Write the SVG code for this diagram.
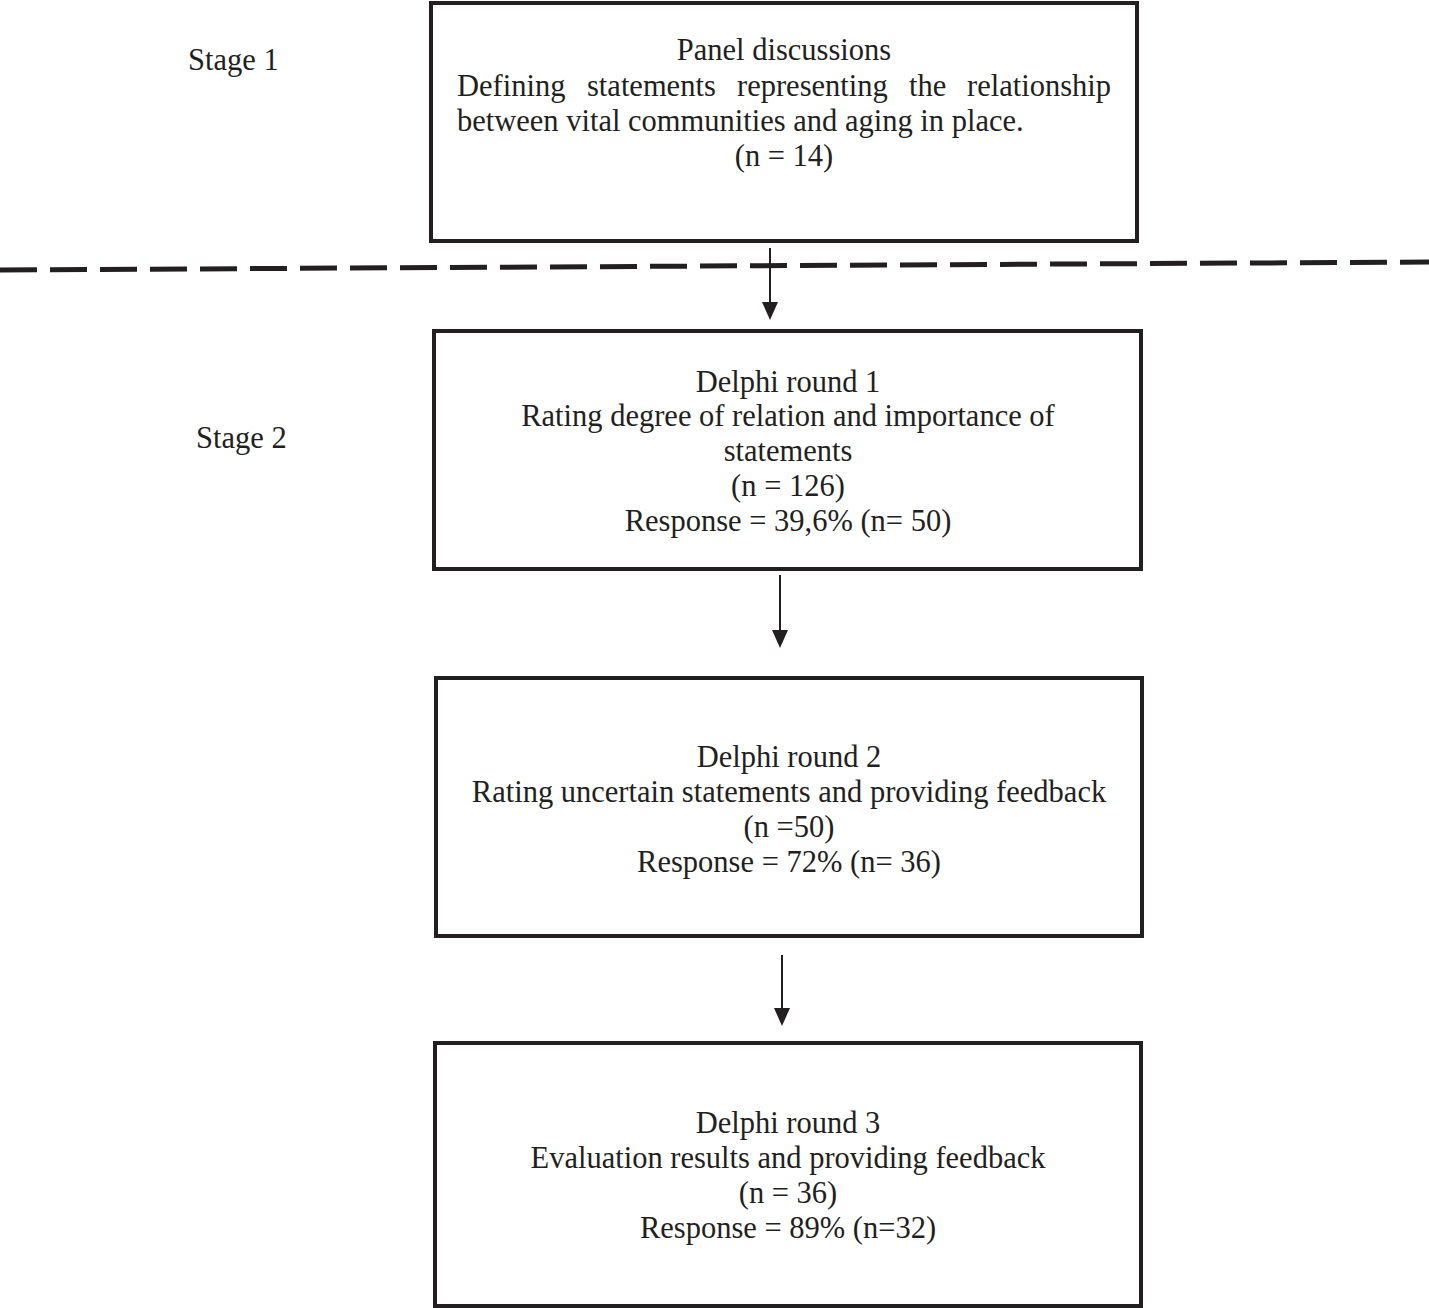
<svg xmlns="http://www.w3.org/2000/svg" width="1429" height="1308" viewBox="0 0 1429 1308">
<style>
text{font-family:"Liberation Serif","Times New Roman",serif;font-size:30.5px;fill:#231f20}
.c{text-anchor:middle}
.e{text-anchor:end}
.box{fill:#fff;stroke:#231f20;stroke-width:4}
.ln{stroke:#231f20;stroke-width:2;fill:none}
.ah{fill:#231f20}
</style>
<rect width="1429" height="1308" fill="#fff"/>
<text x="188" y="70">Stage 1</text>
<text x="196" y="448">Stage 2</text>
<g id="divider"><path d="M0,270 L1429,262" stroke="#231f20" stroke-width="5" stroke-dasharray="37,13" fill="none"/></g>
<g id="n1">
<rect class="box" x="431" y="3" width="706" height="238"/>
<text class="c" x="784" y="60">Panel discussions</text>
<text x="457" y="96">Defining</text>
<text x="587" y="96">statements</text>
<text x="737" y="96">representing</text>
<text x="909" y="96">the</text>
<text class="e" x="1111" y="96">relationship</text>
<text x="457" y="131">between vital communities and aging in place.</text>
<text class="c" x="784" y="166">(n = 14)</text>
</g>
<g id="n2">
<rect class="box" x="434" y="331" width="707" height="238"/>
<text class="c" x="788" y="392">Delphi round 1</text>
<text class="c" x="788" y="426">Rating degree of relation and importance of</text>
<text class="c" x="788" y="461">statements</text>
<text class="c" x="788" y="496">(n = 126)</text>
<text class="c" x="788" y="531">Response = 39,6% (n= 50)</text>
</g>
<g id="n3">
<rect class="box" x="436" y="678" width="706" height="258"/>
<text class="c" x="789" y="767">Delphi round 2</text>
<text class="c" x="789" y="802">Rating uncertain statements and providing feedback</text>
<text class="c" x="789" y="837">(n =50)</text>
<text class="c" x="789" y="872">Response = 72% (n= 36)</text>
</g>
<g id="n4">
<rect class="box" x="435" y="1043" width="706" height="263"/>
<text class="c" x="788" y="1133">Delphi round 3</text>
<text class="c" x="788" y="1168">Evaluation results and providing feedback</text>
<text class="c" x="788" y="1203">(n = 36)</text>
<text class="c" x="788" y="1238">Response = 89% (n=32)</text>
</g>
<g id="connectors">
<line class="ln" x1="770" y1="248" x2="770" y2="304"/>
<path class="ah" d="M762,302 L778,302 L770,320 Z"/>
<line class="ln" x1="780" y1="575" x2="780" y2="632"/>
<path class="ah" d="M772,630 L788,630 L780,648 Z"/>
<line class="ln" x1="782" y1="955" x2="782" y2="1010"/>
<path class="ah" d="M774,1008 L790,1008 L782,1026 Z"/>
</g>
</svg>
